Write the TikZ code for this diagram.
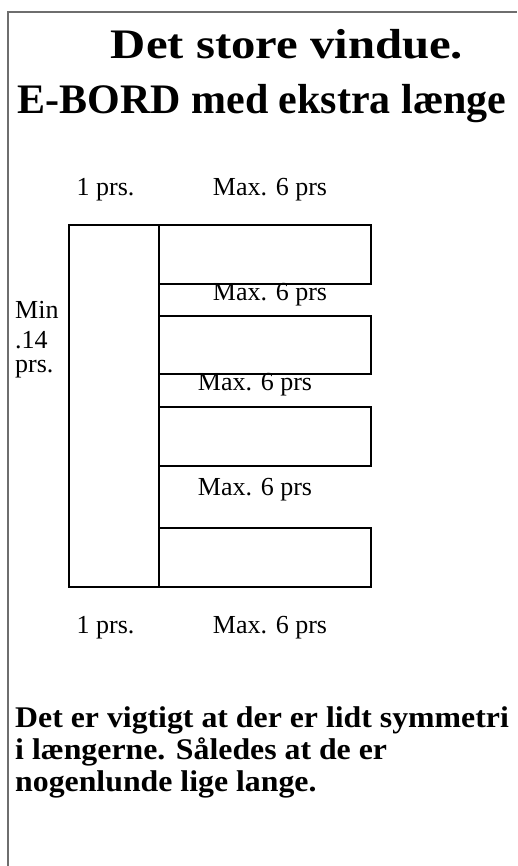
\documentclass[tikz,border=0pt]{standalone}
\usepackage{fontspec}
\setmainfont{Liberation Serif}
\definecolor{frame}{RGB}{110,110,110}
\begin{document}
\begin{tikzpicture}[x=1pt,y=-1pt,
  box/.style={draw=black,line width=2.5pt},
  lbl/.style={inner sep=0pt,font=\fontsize{26}{30}\selectfont},
  ttl/.style={inner sep=0pt,anchor=base,font=\fontsize{42}{46}\bfseries\selectfont},
  note/.style={inner sep=0pt,anchor=base west,xscale=1.06,font=\fontsize{30}{34}\bfseries\selectfont}]
\useasboundingbox (0,0) rectangle (517,866);
\draw[frame,line width=1.5pt] (8,866) -- (8,12) -- (517,12);
\node[ttl,xscale=1.16] (t1) at (287,59) {Det store vindue.};
\node[ttl,xscale=1.0] (t2) at (262,114) {E-BORD med ekstra længe};
\node[lbl] (l1) at (105.5,190) {1 prs.};
\node[lbl] (m1) at (270,190) {Max. 6 prs};
\draw[box] (69,225) rectangle (159,587);
\draw[box] (159,225) rectangle (371,284);
\draw[box] (159,316) rectangle (371,374);
\draw[box] (159,407) rectangle (371,466);
\draw[box] (159,528) rectangle (371,587);
\node[lbl] (m2) at (270,295) {Max. 6 prs};
\node[lbl] (m3) at (255,385) {Max. 6 prs};
\node[lbl] (m4) at (255,490) {Max. 6 prs};
\node[lbl,anchor=west] (a1) at (15,310) {Min};
\node[lbl,anchor=west] (a2) at (15,340) {.14};
\node[lbl,anchor=west] (a3) at (15,369) {prs.};
\node[lbl] (l2) at (105.5,628) {1 prs.};
\node[lbl] (m5) at (270,628) {Max. 6 prs};
\node[note] (n1) at (15,727) {Det er vigtigt at der er lidt symmetri};
\node[note] (n2) at (15,759) {i længerne. Således at de er};
\node[note] (n3) at (15,791) {nogenlunde lige lange.};
\end{tikzpicture}
\end{document}
